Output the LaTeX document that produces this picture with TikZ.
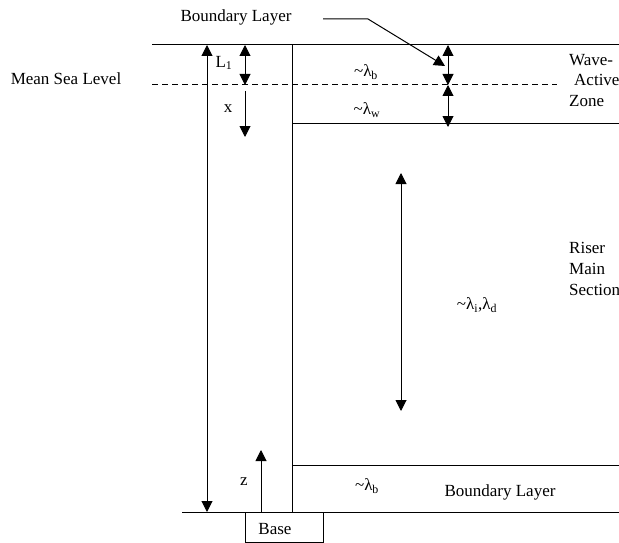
\documentclass[tikz,border=0pt]{standalone}
\usepackage{fontspec}
\setmainfont{Liberation Serif}
\usetikzlibrary{arrows.meta}
\begin{document}
\begin{tikzpicture}[x=1pt,y=-1pt,
  ln/.style={line width=1pt,draw=black},
  arr/.style={ln,-{Triangle[width=11pt,length=11pt]}},
  darr/.style={ln,{Triangle[width=11pt,length=11pt]}-{Triangle[width=11pt,length=11pt]}},
  lbl/.style={inner sep=0pt,font=\fontsize{17}{20}\selectfont}]
\useasboundingbox (0,0) rectangle (619,543);
\clip (0,0) rectangle (619,543);
% levels
\coordinate (topL) at (152,45);   \coordinate (topR) at (619,45);
\coordinate (mslL) at (152,85);   \coordinate (mslR) at (557,85);
\coordinate (wzL) at (292,123);   \coordinate (wzR) at (619,123);
\coordinate (blL) at (292,465);   \coordinate (blR) at (619,465);
\coordinate (botL) at (182,512);  \coordinate (botR) at (619,512);
\coordinate (riserT) at (292,45); \coordinate (riserB) at (292,512);
\draw[ln] (topL) -- (topR);
\draw[ln,dash pattern=on 6pt off 4pt] (mslL) -- (mslR);
\draw[ln] (wzL) -- (wzR);
\draw[ln] (blL) -- (blR);
\draw[ln] (botL) -- (botR);
\draw[ln] (riserT) -- (riserB);
% base
\node[ln,draw,minimum width=78pt,minimum height=30pt,anchor=north west,inner sep=0pt] (base) at (245,512) {};
\node[lbl] (basetxt) at (275,529) {Base};
% left arrows
\coordinate (lT) at (207,45); \coordinate (lB) at (207,512);
\draw[darr] (lT) -- (lB);
\coordinate (l1T) at (245,45); \coordinate (l1B) at (245,85);
\draw[darr] (l1T) -- (l1B);
\coordinate (xT) at (245,91); \coordinate (xB) at (245,137);
\draw[arr] (xT) -- (xB);
\coordinate (zB) at (261,512); \coordinate (zT) at (261,450);
\draw[arr] (zB) -- (zT);
% right arrows
\coordinate (rT) at (448,45); \coordinate (rM) at (448,85); \coordinate (rB) at (448,127);
\draw[darr] (rT) -- (rM);
\draw[darr] (rM) -- (rB);
\coordinate (mT) at (401,173); \coordinate (mB) at (401,411);
\draw[darr] (mT) -- (mB);
% labels
\node[lbl] (bltop) at (236,17) {Boundary Layer};
\coordinate (lead1) at (323,19); \coordinate (lead2) at (368,19); \coordinate (lead3) at (445,66);
\draw[arr] (lead1) -- (lead2) -- (lead3);
\node[lbl] (msl) at (66,79) {Mean Sea Level};
\node[lbl] (L1) at (224,63) {L\textsubscript{1}};
\node[lbl] (x) at (228,109) {x};
\node[lbl] (z) at (244,482) {z};
\node[lbl] (lb1) at (366,72) {\textasciitilde λ\textsubscript{b}};
\node[lbl] (lw) at (367,110) {\textasciitilde λ\textsubscript{w}};
\node[lbl] (lid) at (477,305) {\textasciitilde λ\textsubscript{i},λ\textsubscript{d}};
\node[lbl] (lb2) at (367,486) {\textasciitilde λ\textsubscript{b}};
\node[lbl] (blbot) at (500,492) {Boundary Layer};
\node[lbl,anchor=west] (wave) at (569,60) {Wave-};
\node[lbl,anchor=west] (active) at (574,80) {Active};
\node[lbl,anchor=west] (zone) at (569,101) {Zone};
\node[lbl,anchor=west] (riser) at (569,248) {Riser};
\node[lbl,anchor=west] (main) at (569,269) {Main};
\node[lbl,anchor=west] (section) at (569,290) {Section};
\end{tikzpicture}
\end{document}
